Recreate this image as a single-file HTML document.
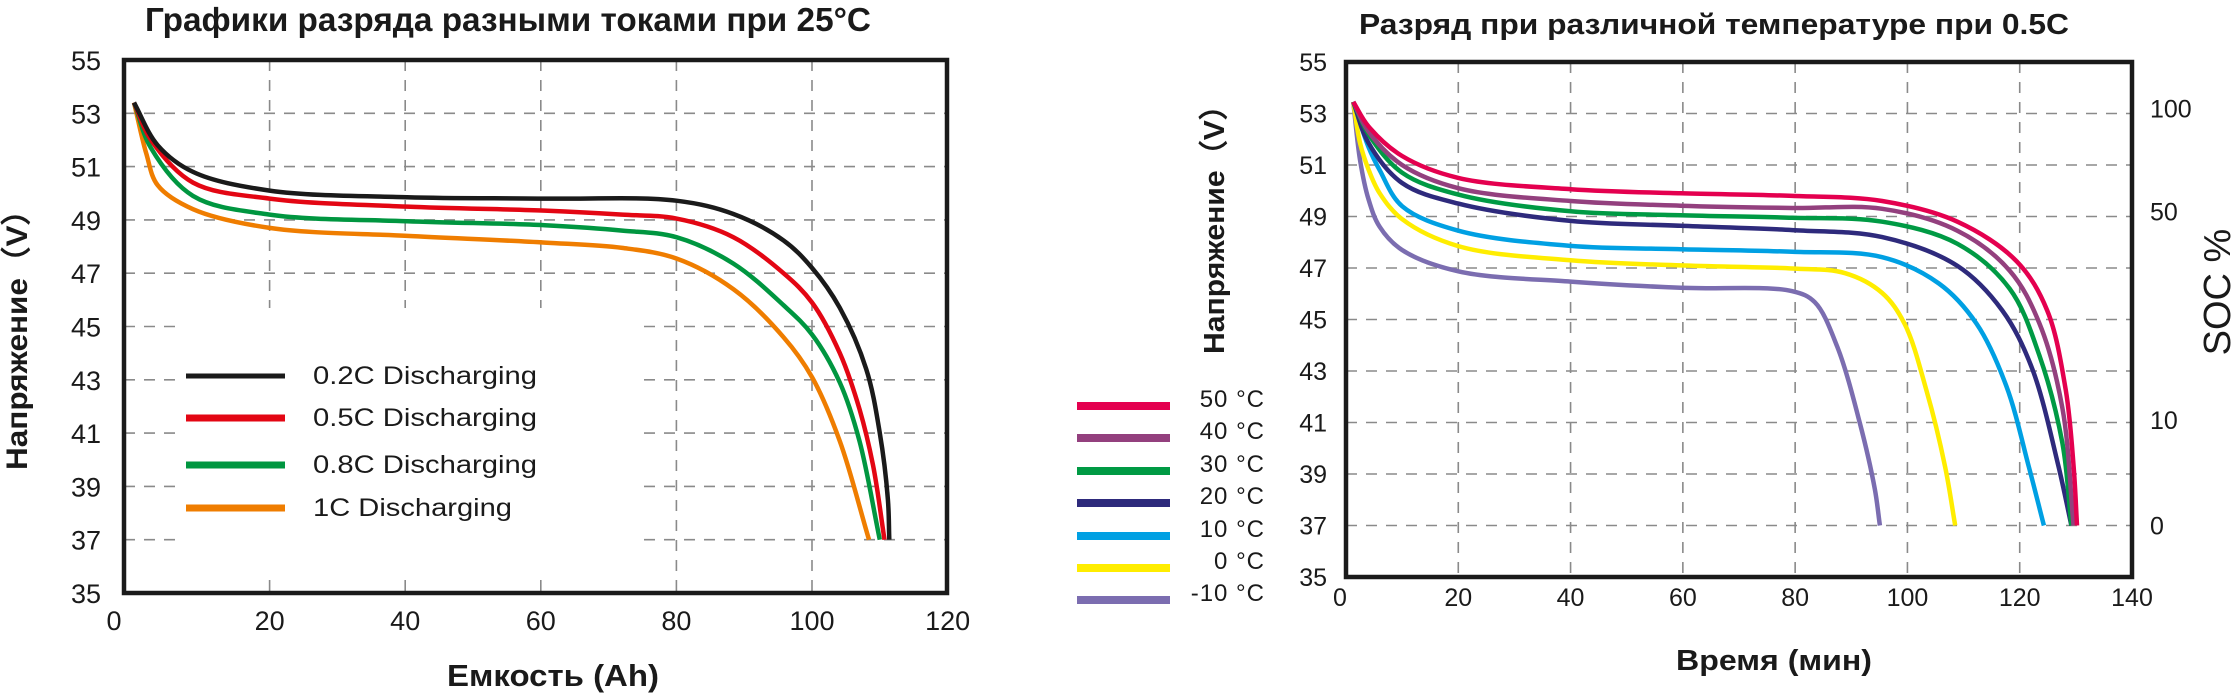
<!DOCTYPE html>
<html><head><meta charset="utf-8"><style>
html,body{margin:0;padding:0;background:#fff}
svg{display:block}
text{font-family:"Liberation Sans",sans-serif;fill:#1a1a1a}
</style></head><body>
<svg id="s" width="2232" height="697" viewBox="0 0 2232 697" xmlns="http://www.w3.org/2000/svg">
<g id="L"></g>
<g id="R"></g>
</svg>
<script>
// ---- Left chart data ----
const leftXTicks = [0,20,40,60,80,100,120];
const leftYTicks = [35,37,39,41,43,45,47,49,51,53,55];
const leftNames = ['0.2C Discharging','0.5C Discharging','0.8C Discharging','1C Discharging'];
const s02x = [0,3.5,8.7,20,40.3,60.6,80,88.4,95.8,100,104.1,108,110,111.2,111.4];
const s02y = [53.4,51.8,50.8,50.1,49.85,49.8,49.72,49.22,48.23,47.2,45.7,43.4,41.0,38.5,37.0];
const s05x = [0,2.5,8.7,20,40.3,60.6,72,80,88.4,95.8,100,104.1,107,109,110.7];
const s05y = [53.4,52.0,50.4,49.8,49.5,49.35,49.2,49.05,48.35,47.0,45.9,44.0,41.9,39.8,37.0];
const s08x = [0,2.5,8.7,20,40.3,60.6,72,80,88.4,95.8,100,104.1,107,110];
const s08y = [53.4,51.7,49.9,49.2,48.95,48.8,48.6,48.35,47.36,45.8,44.7,42.9,40.7,37.0];
const s1x = [0,1.8,3.5,8.7,20,40.3,60.6,72,80,88.4,95.8,100,104.1,108.4];
const s1y = [53.4,51.5,50.3,49.4,48.7,48.4,48.15,47.95,47.55,46.4,44.6,43.1,40.7,37.0];
// ---- Right chart data ----
const rightXTicks = [0,20,40,60,80,100,120,140];
const rightYTicks = [35,37,39,41,43,45,47,49,51,53,55];
const socLabels = ['100','50','10','0'];
const socVolts = [53.2,49.2,41.1,37];
const tempNames = ['50 °C','40 °C','30 °C','20 °C','10 °C','0 °C','-10 °C'];
const t50x=[1.3,4,10,20,40,59.6,79.5,95.5,108.9,119.5,124.9,128.2,129.6,130.2];
const t50y=[53.45,52.5,51.35,50.5,50.06,49.9,49.8,49.6,48.8,47.25,45.35,42.25,39.3,37.0];
const t40x=[1.3,4,10,20,40,59.6,79.5,95.5,108.9,118.2,123.5,127.6,129.6];
const t40y=[53.45,52.3,51.0,50.1,49.6,49.42,49.33,49.3,48.45,46.9,44.85,41.56,37.0];
const t30x=[1.3,4,10,20,40,59.6,79.5,95.5,108.9,118.2,123.5,127.6,129.2];
const t30y=[53.45,52.2,50.7,49.85,49.2,49.05,48.95,48.8,47.94,46.2,43.6,40.2,37.0];
const t20x=[1.3,4,10,20,40,59.6,79.5,95.5,108.9,116.9,122.2,126.9,129.2];
const t20y=[53.45,51.86,50.3,49.5,48.83,48.64,48.47,48.2,47.08,45.35,43.1,39.3,37.0];
const t10x=[1.3,4,6,10,20,40,59.6,79.5,95.5,105.6,112.3,117.6,121.6,124.3];
const t10y=[53.45,51.7,50.8,49.4,48.45,47.86,47.73,47.63,47.42,46.4,44.84,42.43,39.3,37.0];
const t0x=[1.3,2.5,4,6,10,20,40,59.6,79.5,88.9,95.5,99.5,103.4,106.7,108.5];
const t0y=[53.45,51.86,50.83,49.9,48.9,47.85,47.3,47.1,46.98,46.8,46.03,44.83,42.24,39.3,37.0];
const tm10x=[1.3,2.5,4,6,10,20,40,59.6,79.5,83.5,87.5,91.5,94.2,95.1];
const tm10y=[53.45,51.2,49.67,48.6,47.7,46.87,46.47,46.23,46.1,45.67,43.94,41.0,38.4,37.0];

const NS='http://www.w3.org/2000/svg';
function mk(tag,attrs,parent,txt){const e=document.createElementNS(NS,tag);for(const k in attrs)e.setAttribute(k,attrs[k]);if(txt!==undefined)e.textContent=txt;parent.appendChild(e);return e;}
function pathD(xs,ys,sx,sy){
 const p=xs.map((x,i)=>[sx(x),sy(ys[i])]);
 const dist=(a,b)=>Math.sqrt(Math.hypot(b[0]-a[0],b[1]-a[1]))||1e-6;
 let d='M'+p[0][0].toFixed(1)+','+p[0][1].toFixed(1);
 for(let i=0;i<p.length-1;i++){
  const p1=p[i],p2=p[i+1];
  const p0=p[i-1]||[2*p1[0]-p2[0],2*p1[1]-p2[1]];
  const p3=p[i+2]||[2*p2[0]-p1[0],2*p2[1]-p1[1]];
  const d1=dist(p0,p1),d2=dist(p1,p2),d3=dist(p2,p3);
  const c1=[0,1].map(k=>(d1*d1*p2[k]-d2*d2*p0[k]+(2*d1*d1+3*d1*d2+d2*d2)*p1[k])/(3*d1*(d1+d2)));
  const c2=[0,1].map(k=>(d3*d3*p1[k]-d2*d2*p3[k]+(2*d3*d3+3*d3*d2+d2*d2)*p2[k])/(3*d3*(d3+d2)));
  d+='C'+c1.map(v=>v.toFixed(1))+' '+c2.map(v=>v.toFixed(1))+' '+p2.map(v=>v.toFixed(1));
 }
 return d;}

// ===== LEFT =====
(function(){
const g=document.getElementById('L');
const FX0=124,FX1=947,Y0=60,Y1=593;
const sx=v=>134+v*6.78, sy=v=>Y1-(v-35)/20*(Y1-Y0);
leftYTicks.forEach(v=>{if(v>35&&v<55){const l=mk('line',{x1:FX0,x2:FX1,y1:sy(v),y2:sy(v),stroke:'#8a8a8a','stroke-width':1.6,'stroke-dasharray':'11 9'},g);}});
leftXTicks.forEach(v=>{if(v>0&&v<120){const l=mk('line',{x1:sx(v),x2:sx(v),y1:Y0,y2:Y1,stroke:'#8a8a8a','stroke-width':1.6,'stroke-dasharray':'11 9'},g);}});
const bg=mk('rect',{x:177,y:308,width:459,height:270,fill:'#fff'},g);

const cols=['#1a1a1a','#e30613','#009640','#ef7d00'];
const series=[[s02x,s02y],[s05x,s05y],[s08x,s08y],[s1x,s1y]];
for(let i=series.length-1;i>=0;i--){const p=mk('path',{d:pathD(series[i][0],series[i][1],sx,sy),fill:'none',stroke:cols[i],'stroke-width':4.5,'stroke-linejoin':'round'},g);}
const fr=mk('rect',{x:FX0,y:Y0,width:FX1-FX0,height:Y1-Y0,fill:'none',stroke:'#1a1a1a','stroke-width':4.5},g);

leftYTicks.forEach(v=>{const t=mk('text',{x:101,y:sy(v)+10,'text-anchor':'end','font-size':27},g,String(v));});
leftXTicks.forEach(v=>{const t=mk('text',{x:sx(v)-(v===0?20:0),y:630,'text-anchor':'middle','font-size':27},g,String(v));});
const lys=[376,418,465,508];
leftNames.forEach((n,i)=>{const l=mk('line',{x1:186,x2:285,y1:lys[i],y2:lys[i],stroke:cols[i],'stroke-width':i===0?5:7},g);
 const t=mk('text',{x:313,y:lys[i]+8,'font-size':25,textLength:n.length>14?224:199,lengthAdjust:'spacingAndGlyphs'},g,n);});
const tt=mk('text',{x:145,y:31,'font-size':33,'font-weight':'bold',textLength:726,lengthAdjust:'spacingAndGlyphs'},g,'Графики разряда разными токами при 25°C');

const xt=mk('text',{x:553,y:686,'text-anchor':'middle','font-size':31,'font-weight':'bold',textLength:212,lengthAdjust:'spacingAndGlyphs'},g,'Емкость (Ah)');

const yt=mk('text',{x:0,y:0,'text-anchor':'middle','font-size':30,'font-weight':'bold',textLength:276,lengthAdjust:'spacingAndGlyphs',transform:'translate(27,332) rotate(-90)'},g,'Напряжение（V）');

})();

// ===== RIGHT =====
(function(){
const g=document.getElementById('R');
const X0=1346,X1=2132,Y0=62,Y1=577;
const sx=v=>X0+v/140*(X1-X0), sy=v=>Y1-(v-35)/20*(Y1-Y0);
rightYTicks.forEach(v=>{if(v>35&&v<55){const l=mk('line',{x1:X0,x2:X1,y1:sy(v),y2:sy(v),stroke:'#8a8a8a','stroke-width':1.6,'stroke-dasharray':'11 9'},g);}});
rightXTicks.forEach(v=>{if(v>0&&v<140){const l=mk('line',{x1:sx(v),x2:sx(v),y1:Y0,y2:Y1,stroke:'#8a8a8a','stroke-width':1.6,'stroke-dasharray':'11 9'},g);}});
const cols=['#e4004f','#93407e','#009a44','#2e2a7c','#00a0e3','#ffed00','#7b6db0'];
const series=[[t50x,t50y],[t40x,t40y],[t30x,t30y],[t20x,t20y],[t10x,t10y],[t0x,t0y],[tm10x,tm10y]];
for(let i=series.length-1;i>=0;i--){const p=mk('path',{d:pathD(series[i][0],series[i][1],sx,sy),fill:'none',stroke:cols[i],'stroke-width':4.5,'stroke-linejoin':'round'},g);}
const fr=mk('rect',{x:X0,y:Y0,width:X1-X0,height:Y1-Y0,fill:'none',stroke:'#1a1a1a','stroke-width':4.5},g);

rightYTicks.forEach(v=>{const t=mk('text',{x:1327,y:sy(v)+9,'text-anchor':'end','font-size':25},g,String(v));});
rightXTicks.forEach(v=>{const t=mk('text',{x:sx(v)-(v===0?6:0),y:606,'text-anchor':'middle','font-size':25},g,String(v));});
socLabels.forEach((s,i)=>{const t=mk('text',{x:2150,y:sy(socVolts[i])+9,'font-size':25},g,s);});
const lys=[406,438,471,503,536,568,600];
tempNames.forEach((n,i)=>{const l=mk('line',{x1:1077,x2:1170,y1:lys[i],y2:lys[i],stroke:cols[i],'stroke-width':8},g);
 const t=mk('text',{x:1265,y:lys[i]+1,'text-anchor':'end','font-size':24,'letter-spacing':1},g,n);});
const tt=mk('text',{x:1359,y:34,'font-size':29,'font-weight':'bold',textLength:710,lengthAdjust:'spacingAndGlyphs'},g,'Разряд при различной температуре при 0.5C');

const xt=mk('text',{x:1774,y:670,'text-anchor':'middle','font-size':29,'font-weight':'bold',textLength:196,lengthAdjust:'spacingAndGlyphs'},g,'Время (мин)');

const yt=mk('text',{x:0,y:0,'text-anchor':'middle','font-size':29,'font-weight':'bold',textLength:264,lengthAdjust:'spacingAndGlyphs',transform:'translate(1224,222) rotate(-90)'},g,'Напряжение（V）');

const st=mk('text',{x:0,y:0,'text-anchor':'middle','font-size':38,transform:'translate(2230,292) rotate(-90)'},g,'SOC %');

})();
</script>
</body></html>
